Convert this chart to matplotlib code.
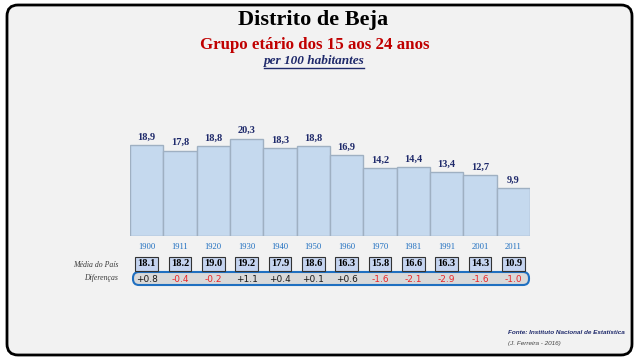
import matplotlib
matplotlib.use("Agg")
import matplotlib.pyplot as plt
from matplotlib.patches import FancyBboxPatch
from matplotlib.transforms import blended_transform_factory

years = ["1900", "1911", "1920", "1930", "1940", "1950", "1960", "1970", "1981", "1991", "2001", "2011"]
beja = [18.9, 17.8, 18.8, 20.3, 18.3, 18.8, 16.9, 14.2, 14.4, 13.4, 12.7, 9.9]
media_pais = [18.1, 18.2, 19.0, 19.2, 17.9, 18.6, 16.3, 15.8, 16.6, 16.3, 14.3, 10.9]
diferencas = ["+0.8", "-0.4", "-0.2", "+1.1", "+0.4", "+0.1", "+0.6", "-1.6", "-2.1", "-2.9", "-1.6", "-1.0"]

W, H = 640, 360
fig = plt.figure(figsize=(6.4, 3.6), dpi=100)
fig.patch.set_facecolor("white")

def fy(y):
    return 1 - y / H

# background axes in pixel coordinates
bg = fig.add_axes([0, 0, 1, 1], zorder=-1)
bg.set_xlim(0, W)
bg.set_ylim(H, 0)
bg.axis("off")
bg.add_patch(FancyBboxPatch((7, 5), 625, 350, boxstyle="round,pad=0,rounding_size=11",
                            facecolor="#f2f2f2", edgecolor="black", linewidth=2))
bg.add_patch(FancyBboxPatch((133, 272), 396, 13, boxstyle="round,pad=0,rounding_size=6",
                            facecolor="#d9d9d9", edgecolor="#1f6fc0", linewidth=1.5))

serif = "Liberation Serif"
bg.text(313, 20, "Distrito de Beja", ha="center", va="center",
        fontsize=16, family=serif, fontweight="bold", color="black")
bg.text(315, 45, "Grupo etário dos 15 aos 24 anos", ha="center", va="center",
        fontsize=12.2, family=serif, fontweight="bold", color="#c00000")
bg.text(314, 61, "per 100 habitantes", ha="center", va="center",
        fontsize=9.5, family=serif, fontweight="bold", style="italic", color="#1f2a6b")
bg.plot([264, 364], [68, 68], color="#1f2a6b", linewidth=1)

# bars axes
ax = fig.add_axes([130 / W, fy(236), 400 / W, 22 * 4.8 / H])
ax.set_xlim(-0.5, 11.5)
ax.set_ylim(0, 22)
ax.axis("off")
x = list(range(len(years)))
ax.bar(x, beja, width=1.0, color="#c5d9ee", edgecolor="#9fb0c2", linewidth=1)
for i, v in enumerate(beja):
    ax.text(i, v + 0.7, f"{v:.1f}".replace(".", ","), ha="center", va="bottom",
            fontsize=7.5, family=serif, fontweight="bold", color="#1f2a6b")

tr = blended_transform_factory(ax.transData, fig.transFigure)
for i, yr in enumerate(years):
    ax.text(i, fy(247), yr, transform=tr, ha="center", va="center", fontsize=6.2,
            family=serif, color="#1f6fc0", clip_on=False)

bg.text(118, 265, "Média do País", ha="right", va="center", fontsize=5.6,
        family=serif, style="italic", color="#3a3a3a")
for i, v in enumerate(media_pais):
    ax.text(i, fy(264), f"{v:.1f}", transform=tr, ha="center", va="center",
            fontsize=7.5, family=serif, fontweight="bold", color="black", clip_on=False,
            bbox=dict(boxstyle="square,pad=0.22", facecolor="#c5d4f0", edgecolor="#333333",
                      linewidth=0.8))

bg.text(118, 278, "Diferenças", ha="right", va="center", fontsize=5.6,
        family=serif, style="italic", color="#3a3a3a")
for i, d in enumerate(diferencas):
    col = "#e8262a" if d.startswith("-") else "#1a1a1a"
    ax.text(i, fy(279), d, transform=tr, ha="center", va="center", fontsize=6.5,
            family="DejaVu Sans", color=col, clip_on=False)

bg.text(508, 333, "Fonte: Instituto Nacional de Estatística", ha="left", va="center",
        fontsize=4.6, family="Liberation Sans", fontweight="bold", style="italic", color="#1f2a6b")
bg.text(508, 343, "(J. Ferreira - 2016)", ha="left", va="center",
        fontsize=4.6, family="Liberation Sans", style="italic", color="#444444")

fig.savefig("out.png", dpi=100, facecolor="white")
